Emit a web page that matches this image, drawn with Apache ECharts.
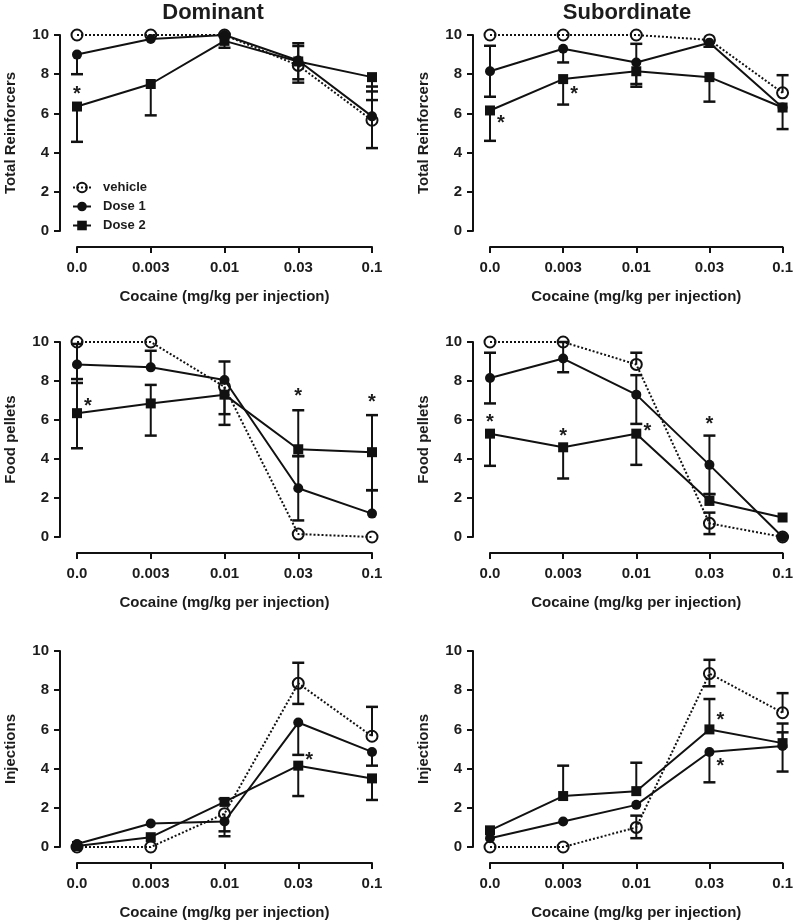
<!DOCTYPE html>
<html><head><meta charset="utf-8">
<script src="https://cdn.jsdelivr.net/npm/echarts@6/dist/echarts.min.js"></script>
<style>html,body{margin:0;padding:0;background:#fff}#c{width:796px;height:922px}</style>
</head><body><div id="c"></div><script>
// ---------- categories / labels ----------
const doses = ['0.0', '0.003', '0.01', '0.03', '0.1'];
const seriesNames = ['vehicle', 'Dose 1', 'Dose 2'];
const colTitles = ['Dominant', 'Subordinate'];
const rowLabels = ['Total Reinforcers', 'Food pellets', 'Injections'];
const xTitle = 'Cocaine (mg/kg per injection)';

// ---------- Dominant: Total Reinforcers ----------
const domTotalVeh = [10, 10, 10, 8.45, 5.65];
const domTotalD1  = [9.0, 9.8, 10.0, 8.7, 5.85];
const domTotalD2  = [6.35, 7.5, 9.7, 8.65, 7.85];
const domTotalVehErr = [[null,null],[null,null],[null,null],[7.57,null],[4.23,7.37]];
const domTotalD1Err  = [[8.0,null],[null,null],[null,null],[null,9.58],[null,6.68]];
const domTotalD2Err  = [[4.55,null],[5.9,null],[9.35,null],[7.74,9.44],[7.12,null]];
const domTotalStars  = [[0, 7.16, 'c']];

// ---------- Subordinate: Total Reinforcers ----------
const subTotalVeh = [10, 10, 10, 9.75, 7.05];
const subTotalD1  = [8.15, 9.3, 8.6, 9.6, 6.3];
const subTotalD2  = [6.15, 7.75, 8.15, 7.85, 6.3];
const subTotalVehErr = [[null,null],[null,null],[null,null],[null,null],[null,7.95]];
const subTotalD1Err  = [[6.85,9.45],[8.6,null],[7.5,9.55],[9.4,null],[5.2,null]];
const subTotalD2Err  = [[4.6,null],[6.45,null],[7.36,null],[6.6,null],[null,null]];
const subTotalStars  = [[0, 5.7, 'r'], [1, 7.16, 'r']];

// ---------- Dominant: Food pellets ----------
const domFoodVeh = [10, 10, 7.7, 0.15, 0];
const domFoodD1  = [8.85, 8.7, 8.05, 2.5, 1.2];
const domFoodD2  = [6.35, 6.85, 7.3, 4.5, 4.35];
const domFoodVehErr = [[null,null],[null,null],[6.3,null],[null,null],[null,null]];
const domFoodD1Err  = [[7.9,9.9],[null,9.55],[null,9.0],[0.85,4.15],[null,2.4]];
const domFoodD2Err  = [[4.55,8.1],[5.2,7.8],[5.75,null],[4.15,6.5],[2.4,6.25]];
const domFoodStars  = [[0, 6.9, 'r'], [3, 7.4, 'c'], [4, 7.1, 'c']];

// ---------- Subordinate: Food pellets ----------
const subFoodVeh = [10, 10, 8.85, 0.7, 0];
const subFoodD1  = [8.15, 9.15, 7.3, 3.7, 0];
const subFoodD2  = [5.3, 4.6, 5.3, 1.85, 1.0];
const subFoodVehErr = [[null,null],[null,null],[null,9.45],[0.15,1.25],[null,null]];
const subFoodD1Err  = [[6.85,9.45],[8.45,10],[5.8,8.3],[2.2,5.2],[null,null]];
const subFoodD2Err  = [[3.65,null],[3.0,null],[3.7,null],[null,2.2],[null,null]];
const subFoodStars  = [[0, 6.1, 'c'], [1, 5.35, 'c'], [2, 5.6, 'r'], [3, 5.95, 'c']];

// ---------- Dominant: Injections ----------
const domInjVeh = [0, 0, 1.7, 8.35, 5.65];
const domInjD1  = [0.15, 1.2, 1.3, 6.35, 4.85];
const domInjD2  = [0.05, 0.5, 2.3, 4.15, 3.5];
const domInjVehErr = [[null,null],[null,null],[0.8,null],[7.3,9.4],[null,7.15]];
const domInjD1Err  = [[null,null],[null,null],[0.55,null],[4.7,null],[4.15,null]];
const domInjD2Err  = [[null,null],[null,null],[null,2.45],[2.6,null],[2.4,null]];
const domInjStars  = [[3, 4.6, 'r']];

// ---------- Subordinate: Injections ----------
const subInjVeh = [0, 0, 1.0, 8.85, 6.85];
const subInjD1  = [0.45, 1.3, 2.15, 4.85, 5.15];
const subInjD2  = [0.85, 2.6, 2.85, 6.0, 5.3];
const subInjVehErr = [[null,null],[null,null],[0.45,1.6],[8.2,9.55],[null,7.85]];
const subInjD1Err  = [[null,null],[null,null],[null,null],[3.3,null],[3.85,5.85]];
const subInjD2Err  = [[null,null],[null,4.15],[null,4.3],[null,7.55],[null,6.3]];
const subInjStars  = [[3, 6.65, 'r'], [3, 4.3, 'r']];

// ---------- assembly ----------
const panels = [
  {row:0, col:0, vals:[domTotalVeh, domTotalD1, domTotalD2], errs:[domTotalVehErr, domTotalD1Err, domTotalD2Err], stars:domTotalStars},
  {row:0, col:1, vals:[subTotalVeh, subTotalD1, subTotalD2], errs:[subTotalVehErr, subTotalD1Err, subTotalD2Err], stars:subTotalStars},
  {row:1, col:0, vals:[domFoodVeh, domFoodD1, domFoodD2], errs:[domFoodVehErr, domFoodD1Err, domFoodD2Err], stars:domFoodStars},
  {row:1, col:1, vals:[subFoodVeh, subFoodD1, subFoodD2], errs:[subFoodVehErr, subFoodD1Err, subFoodD2Err], stars:subFoodStars},
  {row:2, col:0, vals:[domInjVeh, domInjD1, domInjD2], errs:[domInjVehErr, domInjD1Err, domInjD2Err], stars:domInjStars},
  {row:2, col:1, vals:[subInjVeh, subInjD1, subInjD2], errs:[subInjVehErr, subInjD1Err, subInjD2Err], stars:subInjStars}
];

const FONT = "'Liberation Sans', Arial, sans-serif";
const INK = '#111';
const TXT = '#1c1c1c';
const gridLeft = [77, 490];
const gridWidth = [295, 296];
const gridTop = [35, 342, 651];
const gridHeight = [196, 195, 196];

const grids = [], xAxes = [], yAxes = [], series = [];

const symbols = ['circle', 'circle', 'rect'];
const symSizes = [11, 10, 10];
const fills = ['rgba(255,255,255,0)', INK, INK];

panels.forEach((p, k) => {
  grids.push({left: gridLeft[p.col], top: gridTop[p.row], width: gridWidth[p.col], height: gridHeight[p.row]});
  xAxes.push({
    gridIndex: k, type: 'category', data: doses, boundaryGap: false, offset: 16,
    axisLine: {onZero: false, lineStyle: {color: INK, width: 2}},
    axisTick: {show: true, length: 6, lineStyle: {color: INK, width: 2}},
    axisLabel: {margin: 13, fontSize: 15, fontWeight: 'bold', color: TXT, fontFamily: FONT},
    name: xTitle, nameLocation: 'middle', nameGap: 42,
    nameTextStyle: {fontSize: 15, fontWeight: 'bold', color: TXT, fontFamily: FONT},
    splitLine: {show: false}
  });
  yAxes.push({
    gridIndex: k, type: 'value', min: 0, max: 10, interval: 2, offset: 17,
    axisLine: {show: true, onZero: false, lineStyle: {color: INK, width: 2}},
    axisTick: {show: true, length: 6, lineStyle: {color: INK, width: 2}},
    axisLabel: {margin: 11, fontSize: 15, fontWeight: 'bold', color: TXT, fontFamily: FONT},
    splitLine: {show: false},
    name: rowLabels[p.row], nameLocation: 'middle', nameGap: 42,
    nameTextStyle: {fontSize: 15, fontWeight: 'bold', color: TXT, fontFamily: FONT}
  });

  // error bars
  p.errs.forEach((errArr, s) => {
    const vals = p.vals[s];
    series.push({
      type: 'custom', xAxisIndex: k, yAxisIndex: k, z: 1, silent: true,
      data: vals.map((v, i) => [i, v]),
      renderItem: (params, api) => {
        const i = api.value(0), v = api.value(1);
        const e = errArr[params.dataIndex];
        const c0 = api.coord([i, v]);
        const ch = [];
        e.forEach(end => {
          if (end === null || end === undefined) return;
          const c1 = api.coord([i, end]);
          ch.push({type: 'line', shape: {x1: c0[0], y1: c0[1], x2: c1[0], y2: c1[1]}, style: {stroke: INK, lineWidth: 2}});
          ch.push({type: 'line', shape: {x1: c1[0] - 6, y1: c1[1], x2: c1[0] + 6, y2: c1[1]}, style: {stroke: INK, lineWidth: 2.5}});
        });
        return {type: 'group', children: ch};
      }
    });
  });

  // lines with markers
  p.vals.forEach((vals, s) => {
    series.push({
      type: 'line', name: seriesNames[s], xAxisIndex: k, yAxisIndex: k, z: 3,
      data: vals, symbol: symbols[s], symbolSize: symSizes[s], showAllSymbol: true,
      clip: false, animation: false,
      lineStyle: {color: INK, width: 2, type: s === 0 ? [2, 2] : 'solid'},
      itemStyle: {color: fills[s], borderColor: INK, borderWidth: s === 0 ? 2 : 0},
      emphasis: {disabled: true}
    });
  });

  // significance stars
  series.push({
    type: 'custom', xAxisIndex: k, yAxisIndex: k, z: 4, silent: true,
    data: p.stars.map(st => [st[0], st[1]]),
    renderItem: (params, api) => {
      const st = p.stars[params.dataIndex];
      const c = api.coord([api.value(0), api.value(1)]);
      const dx = st[2] === 'r' ? 11 : 0;
      return {type: 'text', x: c[0] + dx, y: c[1] + 4,
        style: {text: '*', fontSize: 20, fontWeight: 'bold', fontFamily: FONT, fill: TXT, align: 'center', verticalAlign: 'middle'}};
    }
  });
});

const chart = echarts.init(document.getElementById('c'), null, {renderer: 'canvas'});
chart.setOption({
  backgroundColor: '#fff',
  animation: false,
  grid: grids, xAxis: xAxes, yAxis: yAxes, series: series,
  legend: {
    data: seriesNames, orient: 'vertical', left: 72, top: 181, padding: 0,
    itemWidth: 18, itemHeight: 12, itemGap: 6,
    textStyle: {fontSize: 13, fontWeight: 'bold', color: TXT, fontFamily: FONT, padding: [0, 0, 0, 7]},
    selectedMode: false
  },
  graphic: colTitles.map((t, c) => ({
    type: 'text', x: c === 0 ? 213 : 627, y: 13,
    style: {text: t, fontSize: 22, fontWeight: 'bold', fontFamily: FONT, fill: TXT, align: 'center', verticalAlign: 'middle'}
  }))
});
</script></body></html>
